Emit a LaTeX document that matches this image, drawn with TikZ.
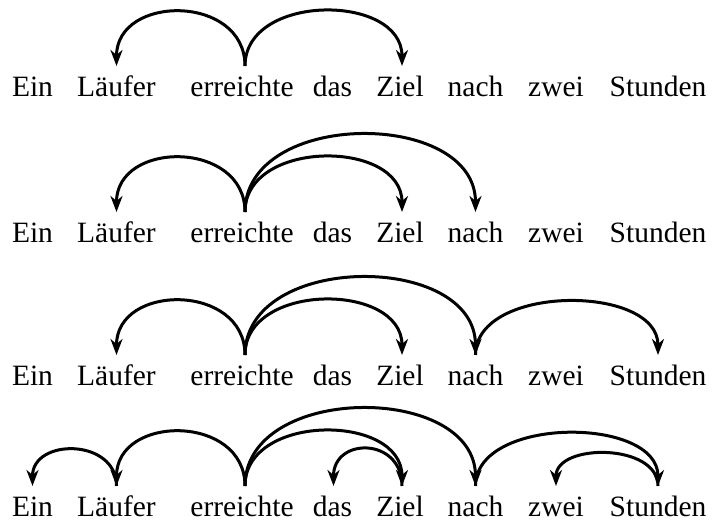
\documentclass[tikz,border=0pt]{standalone}
\usepackage{fontspec}
\setmainfont{Liberation Serif}
\usetikzlibrary{arrows.meta}
\begin{document}
\begin{tikzpicture}[x=1pt,y=1pt,
  word/.style={anchor=base,inner sep=0pt,font=\fontsize{29.5}{30}\selectfont},
  dep/.style={line width=3pt,-{Stealth[length=16pt,width=12pt,inset=5pt]}}]
\useasboundingbox (0,0) rectangle (715,522);
\foreach \r/\y in {1/425,2/279,3/136,4/5}{
  \node[word] (ein\r) at (32.5,\y) {Ein};
  \node[word] (lau\r) at (116.5,\y) {Läufer};
  \node[word] (err\r) at (242,\y) {erreichte};
  \node[word] (das\r) at (332.5,\y) {das};
  \node[word] (zie\r) at (400,\y) {Ziel};
  \node[word] (nac\r) at (475.5,\y) {nach};
  \node[word] (zwe\r) at (556,\y) {zwei};
  \node[word] (stu\r) at (658,\y) {Stunden};
  \coordinate (ein\r t) at ([yshift=31pt]ein\r.base);
  \coordinate (lau\r t) at ([yshift=31pt]lau\r.base);
  \coordinate (err\r t) at ([xshift=3pt,yshift=31pt]err\r.base);
  \coordinate (das\r t) at ([xshift=1pt,yshift=31pt]das\r.base);
  \coordinate (zie\r t) at ([xshift=2pt,yshift=31pt]zie\r.base);
  \coordinate (nac\r t) at ([yshift=31pt]nac\r.base);
  \coordinate (zwe\r t) at ([yshift=31pt]zwe\r.base);
  \coordinate (stu\r t) at ([yshift=31pt]stu\r.base);
}
% row 1
\draw[dep] (err1t) .. controls +(0,72) and +(0,72) .. (lau1t);
\draw[dep] (err1t) .. controls +(0,73) and +(0,73) .. (zie1t);
% row 2
\draw[dep] (err2t) .. controls +(0,72) and +(0,72) .. (lau2t);
\draw[dep] (err2t) .. controls +(0,73) and +(0,73) .. (zie2t);
\draw[dep] (err2t) .. controls +(0,103) and +(0,103) .. (nac2t);
% row 3
\draw[dep] (err3t) .. controls +(0,72) and +(0,72) .. (lau3t);
\draw[dep] (err3t) .. controls +(0,73) and +(0,73) .. (zie3t);
\draw[dep] (err3t) .. controls +(0,103) and +(0,103) .. (nac3t);
\draw[dep] (nac3t) .. controls +(0,71) and +(0,71) .. (stu3t);
% row 4
\draw[dep] (err4t) .. controls +(0,72) and +(0,72) .. (lau4t);
\draw[dep] (err4t) .. controls +(0,73) and +(0,73) .. (zie4t);
\draw[dep] (err4t) .. controls +(0,103) and +(0,103) .. (nac4t);
\draw[dep] (nac4t) .. controls +(0,70) and +(0,70) .. (stu4t);
\draw[dep] (lau4t) .. controls +(0,48) and +(0,48) .. (ein4t);
\draw[dep] (zie4t) .. controls +(0,49) and +(0,49) .. (das4t);
\draw[dep] (stu4t) .. controls +(0,43) and +(0,43) .. (zwe4t);
\end{tikzpicture}
\end{document}
